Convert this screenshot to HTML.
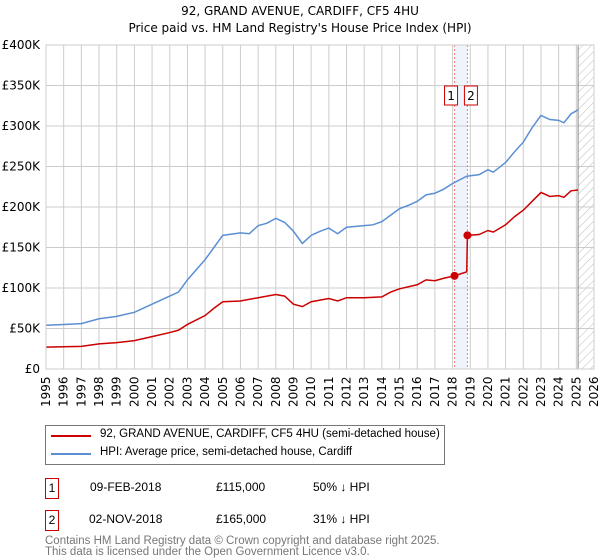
<!DOCTYPE html>
<html><head><meta charset="utf-8"><style>
body{margin:0;background:#fff;font-family:"Liberation Sans","DejaVu Sans",sans-serif;}
#wrap{position:relative;width:600px;height:560px;overflow:hidden;}
.t{position:absolute;font-size:12px;color:#000;white-space:nowrap;}
</style></head><body><div id="wrap">
<svg id="svg" width="600" height="560" style="position:absolute;left:0;top:0">
<defs><pattern id="hatch" width="6" height="6" patternUnits="userSpaceOnUse" patternTransform="rotate(45)"><line x1="0" y1="0" x2="0" y2="6" stroke="#bbb" stroke-width="1"/></pattern></defs>
<text x="300" y="15" text-anchor="middle" font-size="12" font-family="DejaVu Sans, sans-serif">92, GRAND AVENUE, CARDIFF, CF5 4HU</text>
<text x="300" y="32" text-anchor="middle" font-size="12" font-family="DejaVu Sans, sans-serif">Price paid vs. HM Land Registry's House Price Index (HPI)</text>
<g id="g"></g>
</svg>
<div style="position:absolute;left:45px;top:425px;width:398px;height:38px;border:1px solid #777;">
 <div style="position:absolute;left:5px;top:9px;width:40px;height:2px;background:#cc0000"></div>
 <div class="t" style="left:54px;top:2px;font-size:11.5px">92, GRAND AVENUE, CARDIFF, CF5 4HU (semi-detached house)</div>
 <div style="position:absolute;left:5px;top:27px;width:40px;height:2px;background:#5b8fd4"></div>
 <div class="t" style="left:54px;top:20px;font-size:11.5px">HPI: Average price, semi-detached house, Cardiff</div>
</div>
<div style="position:absolute;left:45px;top:478px;width:12px;height:19px;border:1px solid #cc0000;font-size:12px;text-align:center;line-height:19px">1</div>
<div class="t" style="left:90px;top:480px">09-FEB-2018</div>
<div class="t" style="left:216px;top:480px">£115,000</div>
<div class="t" style="left:313px;top:480px">50% ↓ HPI</div>
<div style="position:absolute;left:45px;top:510px;width:12px;height:19px;border:1px solid #cc0000;font-size:12px;text-align:center;line-height:19px">2</div>
<div class="t" style="left:89px;top:512px">02-NOV-2018</div>
<div class="t" style="left:216px;top:512px">£165,000</div>
<div class="t" style="left:313px;top:512px">31% ↓ HPI</div>
<div class="t" style="left:45px;top:536px;color:#777;font-size:11.5px;line-height:11px">Contains HM Land Registry data © Crown copyright and database right 2025.<br>This data is licensed under the Open Government Licence v3.0.</div>
</div>
<script>
const hpiYears=[1995,1996,1997,1998,1999,2000,2001,2002,2002.5,2003,2004,2004.5,2005,2006,2006.5,2007,2007.5,2008,2008.5,2009,2009.5,2010,2010.5,2011,2011.5,2012,2013,2013.5,2014,2014.5,2015,2015.5,2016,2016.5,2017,2017.5,2018,2018.8,2019.5,2020,2020.3,2021,2021.5,2022,2022.5,2023,2023.5,2024,2024.3,2024.7,2025.1];
const hpiValues=[54,55,56,62,65,70,80,90,95,110,135,150,165,168,167,177,180,186,181,170,155,165,170,174,167,175,177,178,182,190,198,202,207,215,217,222,229,238,240,246,243,255,268,280,298,313,308,307,304,315,320];
const priceYears=[1995,1996,1997,1998,1999,2000,2001,2002,2002.5,2003,2004,2004.5,2005,2006,2007,2008,2008.5,2009,2009.5,2010,2011,2011.5,2012,2013,2014,2014.5,2015,2016,2016.5,2017,2017.5,2018.11,2018.8,2018.84,2019.5,2020,2020.3,2021,2021.5,2022,2022.5,2023,2023.5,2024,2024.3,2024.7,2025.1];
const priceValues=[27,27.5,28,31,32.5,35,40,45,48,55,66,75,83,84,88,92,90,80,77,83,87,84,88,88,89,95,99,104,110,109,112,115,120,165,166,171,169,178,188,196,207,218,213,214,212,220,221];
const saleYears=[2018.11,2018.84];
const saleValues=[115,165];
const saleLabels=["1","2"];
const yTicks=[0,50,100,150,200,250,300,350,400];
const yTickLabels=["£0","£50K","£100K","£150K","£200K","£250K","£300K","£350K","£400K"];
const xTicks=[1995,1996,1997,1998,1999,2000,2001,2002,2003,2004,2005,2006,2007,2008,2009,2010,2011,2012,2013,2014,2015,2016,2017,2018,2019,2020,2021,2022,2023,2024,2025,2026];
const X0=46,X1=594,Y0=369,Y1=45;
const xs=y=>X0+(y-1995)/(2026-1995)*(X1-X0);
const ys=v=>Y0-v/400*(Y0-Y1);
const g=document.getElementById('g');const NS='http://www.w3.org/2000/svg';
function mk(t,a){const e=document.createElementNS(NS,t);for(const k in a)e.setAttribute(k,a[k]);g.appendChild(e);return e;}
let e;
e=mk('rect',{x:xs(saleYears[0]),y:Y1,width:xs(saleYears[1])-xs(saleYears[0]),height:Y0-Y1,fill:'#eef3fc'});


e=mk('rect',{x:xs(2025.1),y:Y1,width:X1-xs(2025.1),height:Y0-Y1,fill:'url(#hatch)'});


xTicks.forEach(t=>{
 e=mk('line',{x1:xs(t),x2:xs(t),y1:Y1,y2:Y0,stroke:'#ccc','stroke-width':1});
 
 
 e=mk('text',{x:0,y:0,transform:`translate(${xs(t)+4},${Y0+38}) rotate(-90)`,'font-size':12,'font-family':'DejaVu Sans, sans-serif'});
 e.textContent=t;
 
 
});
yTicks.forEach((t,i)=>{
 e=mk('line',{x1:X0,x2:X1,y1:ys(t),y2:ys(t),stroke:'#ccc','stroke-width':1});
 
 
 e=mk('text',{x:X0-6,y:ys(t)+4,'text-anchor':'end','font-size':12,'font-family':'DejaVu Sans, sans-serif'});
 e.textContent=yTickLabels[i];
 
 
});
e=mk('line',{x1:xs(2025.1),x2:xs(2025.1),y1:Y1,y2:Y0,stroke:'#888','stroke-width':1});


saleYears.forEach(s=>{
 e=mk('line',{x1:xs(s),x2:xs(s),y1:Y1,y2:Y0,stroke:'#f08080','stroke-width':1,'stroke-dasharray':'2,2'});
 
 
});
e=mk('polyline',{points:hpiYears.map((y,i)=>xs(y)+','+ys(hpiValues[i])).join(' '),fill:'none',stroke:'#5b8fd4','stroke-width':1.5});


e=mk('polyline',{points:priceYears.map((y,i)=>xs(y)+','+ys(priceValues[i])).join(' '),fill:'none',stroke:'#cc0000','stroke-width':1.5});


saleYears.forEach((s,i)=>{
 e=mk('circle',{cx:xs(s),cy:ys(saleValues[i]),r:4,fill:'#cc0000'});
 
 
 const bx=i==0?xs(s)-10:xs(s)-3;
 e=mk('rect',{x:bx,y:86,width:13,height:19,fill:'#fff',stroke:'#cc0000','stroke-width':1});
 
 
 e=mk('text',{x:bx+6.5,y:100,'text-anchor':'middle','font-size':12,'font-family':'DejaVu Sans, sans-serif'});
 e.textContent=saleLabels[i];
 
 
});
e=mk('rect',{x:X0,y:Y1,width:X1-X0,height:Y0-Y1,fill:'none',stroke:'#ccc'});


</script>
</body></html>
